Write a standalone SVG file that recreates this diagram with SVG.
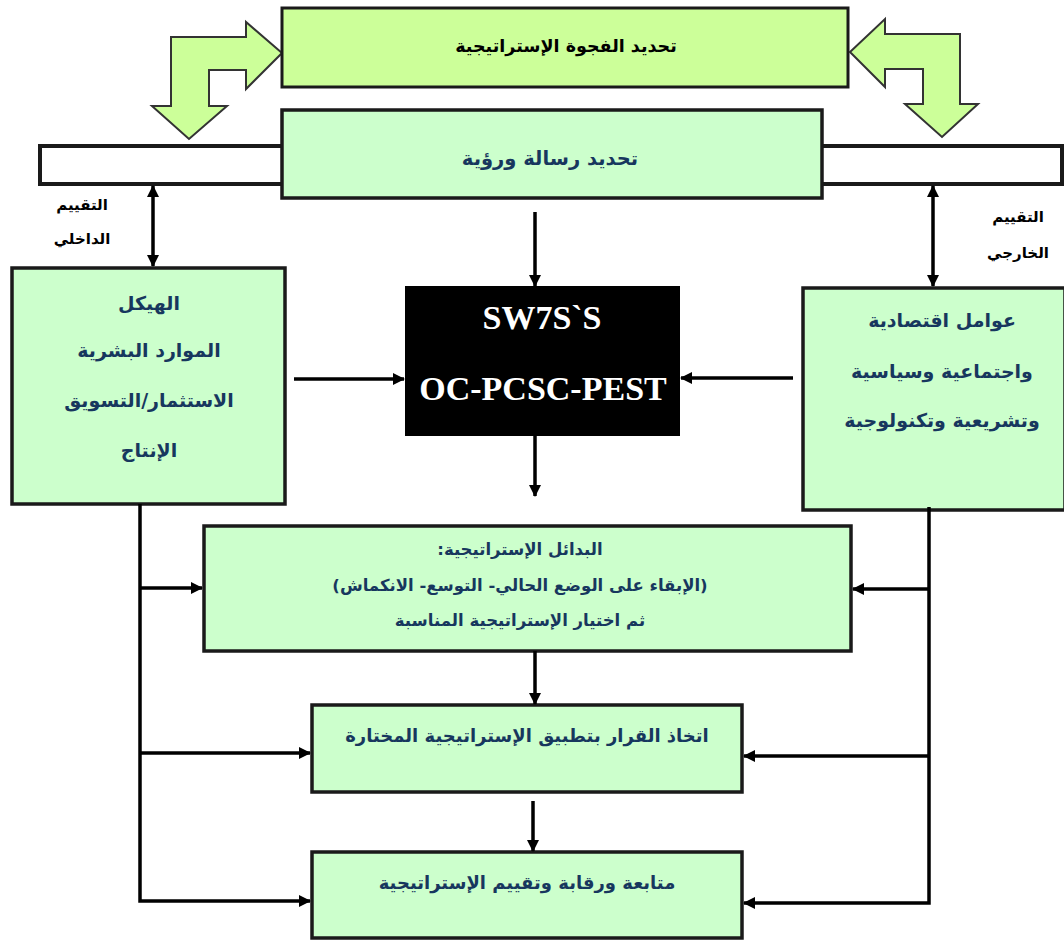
<svg xmlns="http://www.w3.org/2000/svg" width="1064" height="942" viewBox="0 0 1064 942">
<defs>
<style>
.box{fill:#ccffcc;stroke:#1a1a1a;stroke-width:3.5}
.gap{fill:#ccff99;stroke:#1a1a1a;stroke-width:3}
.bar{fill:#ffffff;stroke:#1a1a1a;stroke-width:4}
.bend{fill:#ccff99;stroke:#333;stroke-width:2;stroke-linejoin:miter}
.ln{fill:none;stroke:#000;stroke-width:3.5}
.ar{font-family:"DejaVu Sans",sans-serif;font-weight:bold;direction:rtl;text-anchor:middle}
.blue{fill:#17375e}
.blk{fill:#000}
.lat{font-family:"Liberation Serif",serif;font-weight:bold;fill:#fff;text-anchor:middle;font-size:34px}
</style>
<marker id="ah" markerWidth="12" markerHeight="12" refX="11" refY="6" orient="auto" markerUnits="userSpaceOnUse">
<path d="M0,0 L12,6 L0,12 Z" fill="#000"/>
</marker>
<marker id="as" markerWidth="12" markerHeight="12" refX="1" refY="6" orient="auto" markerUnits="userSpaceOnUse">
<path d="M12,0 L0,6 L12,12 Z" fill="#000"/>
</marker>
</defs>
<rect width="1064" height="942" fill="#fff"/>

<g id="bar">
<rect class="bar" x="40" y="146" width="1022" height="38"/>
</g>

<g id="gap-arrows">
<polygon class="bend" points="171,37 246,37 246,22 282,53 246,89 246,70 209,70 209,106 227,106 189,139 152,106 171,106"/>
<polygon class="bend" points="960,34 885,34 885,19 850,52 885,87 885,69 923,69 923,104 905,104 942,137 978,104 960,104"/>
</g>

<g id="node-gap">
<rect class="gap" x="282" y="8" width="566" height="79"/>
<text class="ar blk" x="566" y="52" font-size="17.5">تحديد الفجوة الإستراتيجية</text>
</g>

<g id="node-mission">
<rect class="box" x="282" y="110" width="540" height="88"/>
<text class="ar blue" x="550" y="165" font-size="19.5">تحديد رسالة ورؤية</text>
</g>

<g id="label-internal">
<text class="ar blk" x="82" y="210" font-size="15">التقييم</text>
<text class="ar blk" x="82" y="244" font-size="15">الداخلي</text>
</g>
<g id="label-external">
<text class="ar blk" x="1018" y="222" font-size="15">التقييم</text>
<text class="ar blk" x="1018" y="258" font-size="15">الخارجي</text>
</g>

<g id="node-internal">
<rect class="box" x="12" y="268" width="273" height="236"/>
<text class="ar blue" x="149" y="310" font-size="19">الهيكل</text>
<text class="ar blue" x="149" y="357" font-size="19">الموارد البشرية</text>
<text class="ar blue" x="149" y="407" font-size="19">الاستثمار/التسويق</text>
<text class="ar blue" x="149" y="457" font-size="19">الإنتاج</text>
</g>

<g id="node-external">
<rect class="box" x="803" y="288" width="262" height="222"/>
<text class="ar blue" x="942" y="327" font-size="19">عوامل اقتصادية</text>
<text class="ar blue" x="942" y="378" font-size="19">واجتماعية وسياسية</text>
<text class="ar blue" x="942" y="427" font-size="19">وتشريعية وتكنولوجية</text>
</g>

<g id="node-swot">
<rect x="405" y="286" width="275" height="150" fill="#000"/>
<text class="lat" x="542" y="329">SW7S`S</text>
<text class="lat" x="543" y="400">OC-PCSC-PEST</text>
</g>

<g id="node-alternatives">
<rect class="box" x="204" y="526" width="647" height="125"/>
<text class="ar blue" x="520" y="555" font-size="16.5">البدائل الإستراتيجية:</text>
<text class="ar blue" x="520" y="591" font-size="16.5">(الإبقاء على الوضع الحالي- التوسع- الانكماش)</text>
<text class="ar blue" x="520" y="626" font-size="16.5">ثم اختيار الإستراتيجية المناسبة</text>
</g>

<g id="node-decision">
<rect class="box" x="312" y="705" width="430" height="87"/>
<text class="ar blue" x="527" y="742" font-size="18">اتخاذ القرار بتطبيق الإستراتيجية المختارة</text>
</g>

<g id="node-monitor">
<rect class="box" x="312" y="852" width="430" height="86"/>
<text class="ar blue" x="527" y="889" font-size="18">متابعة ورقابة وتقييم الإستراتيجية</text>
</g>

<g id="connectors">
<line class="ln" x1="153" y1="186" x2="153" y2="266" marker-start="url(#as)" marker-end="url(#ah)"/>
<line class="ln" x1="933" y1="186" x2="933" y2="286" marker-start="url(#as)" marker-end="url(#ah)"/>
<line class="ln" x1="535" y1="212" x2="535" y2="286" marker-end="url(#ah)"/>
<line class="ln" x1="535" y1="436" x2="535" y2="496" marker-end="url(#ah)"/>
<line class="ln" x1="294" y1="379" x2="404" y2="379" marker-end="url(#ah)"/>
<line class="ln" x1="793" y1="378" x2="681" y2="378" marker-end="url(#ah)"/>
<line class="ln" x1="535" y1="651" x2="535" y2="704" marker-end="url(#ah)"/>
<line class="ln" x1="533" y1="801" x2="533" y2="851" marker-end="url(#ah)"/>
<polyline class="ln" points="140,504 140,901 310,901" marker-end="url(#ah)"/>
<line class="ln" x1="140" y1="588" x2="202" y2="588" marker-end="url(#ah)"/>
<line class="ln" x1="140" y1="753" x2="310" y2="753" marker-end="url(#ah)"/>
<polyline class="ln" points="929,507 929,903 744,903" marker-end="url(#ah)"/>
<line class="ln" x1="929" y1="589" x2="853" y2="589" marker-end="url(#ah)"/>
<line class="ln" x1="929" y1="756" x2="744" y2="756" marker-end="url(#ah)"/>
</g>
</svg>
